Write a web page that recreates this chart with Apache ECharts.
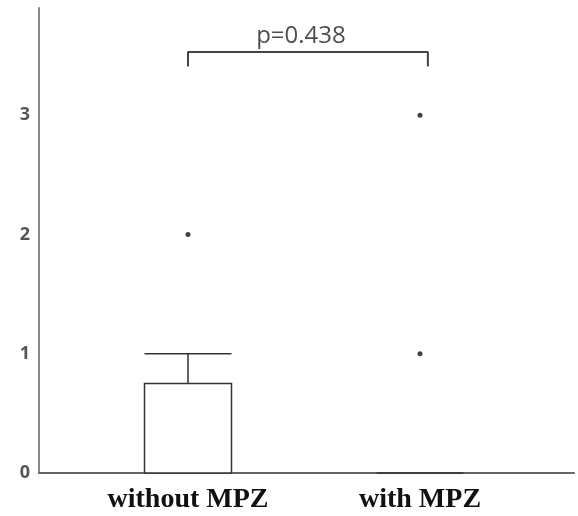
<!DOCTYPE html>
<html>
<head>
<meta charset="utf-8">
<script src="https://cdn.jsdelivr.net/npm/echarts@6/dist/echarts.min.js"></script>
<style>
  html, body { margin: 0; padding: 0; background: #fff; }
  #chart { width: 578px; height: 516px; }
</style>
</head>
<body>
<div id="chart"></div>
<script>
// groups and their box summaries: [min, Q1, median, Q3, max]
const groups = ['without MPZ', 'with MPZ'];
const boxes = [
  [0, 0, 0, 0.75, 1],
  [0, 0, 0, 0, 0]
];
// outliers: [group, value]
const outliers = [
  ['without MPZ', 2],
  ['with MPZ', 1],
  ['with MPZ', 3]
];
const yTicks = [0, 1, 2, 3];
// significance bracket, in units where group centres are 0 and 1
const bracketX = [0, 1.034];
const bracketTop = 3.53;
const bracketFoot = 3.41;
const pText = 'p=0.438';

let chart = echarts.init(document.getElementById('chart'), null, { renderer: 'canvas' });

const yMax = 3.9;
const plainAxis = {
  axisTick: { show: false },
  splitLine: { show: false }
};

let option = {
  animation: false,
  backgroundColor: '#fff',
  grid: [
    { left: 39, right: 4, top: 8, bottom: 43 },
    { left: 72, right: 42, top: 8, bottom: 43 }
  ],
  xAxis: [
    {
      gridIndex: 0,
      type: 'value',
      min: -0.6422,
      max: 1.6638,
      axisLine: { show: true, onZero: false, lineStyle: { color: '#666', width: 2 } },
      axisLabel: { show: false },
      ...plainAxis
    },
    {
      gridIndex: 1,
      type: 'category',
      data: groups,
      axisLine: { show: false },
      axisLabel: {
        margin: 13,
        fontFamily: 'Liberation Serif',
        fontWeight: 'bold',
        fontSize: 28,
        color: '#111'
      },
      ...plainAxis
    }
  ],
  yAxis: [
    {
      gridIndex: 0,
      type: 'value',
      min: 0,
      max: yMax,
      interval: 1,
      axisLine: { show: true, onZero: false, lineStyle: { color: '#888', width: 2 } },
      axisLabel: {
        margin: 9,
        fontFamily: 'Open Sans',
        fontWeight: 'bold',
        fontSize: 18,
        color: '#555',
        formatter: v => (yTicks.indexOf(v) >= 0 ? String(v) : '')
      },
      ...plainAxis
    },
    {
      gridIndex: 1,
      type: 'value',
      min: 0,
      max: yMax,
      show: false
    }
  ],
  series: [
    {
      type: 'boxplot',
      xAxisIndex: 1,
      yAxisIndex: 1,
      data: boxes,
      boxWidth: [87, 87],
      itemStyle: { color: '#fff', borderColor: '#333', borderWidth: 1.5 }
    },
    {
      type: 'scatter',
      xAxisIndex: 1,
      yAxisIndex: 1,
      data: outliers,
      symbolSize: 5,
      itemStyle: { color: '#111' }
    },
    {
      type: 'line',
      xAxisIndex: 0,
      yAxisIndex: 0,
      data: [
        [bracketX[0], bracketFoot],
        [bracketX[0], bracketTop],
        [bracketX[1], bracketTop],
        [bracketX[1], bracketFoot]
      ],
      symbol: 'none',
      lineStyle: { color: '#444', width: 2 }
    },
    {
      type: 'scatter',
      xAxisIndex: 0,
      yAxisIndex: 0,
      data: [[(bracketX[0] + bracketX[1]) / 2 - 0.03, bracketTop]],
      symbolSize: 0,
      label: {
        show: true,
        position: 'top',
        distance: 4,
        formatter: pText,
        fontFamily: 'Open Sans',
        fontSize: 24,
        color: '#222'
      }
    }
  ]
};

chart.setOption(option);
</script>
</body>
</html>
